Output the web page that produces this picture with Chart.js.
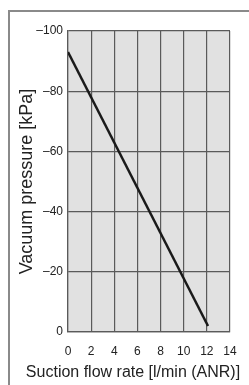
<!DOCTYPE html>
<html>
<head>
<meta charset="utf-8">
<script src="https://cdn.jsdelivr.net/npm/chart.js@4.4.1/dist/chart.umd.min.js"></script>
<style>
  html, body { margin: 0; padding: 0; background: #fff; }
  #wrap { position: relative; width: 249px; height: 385px; overflow: hidden; }
  #frame {
    position: absolute; left: 8px; top: 10px; width: 260px; height: 400px;
    border-left: 2px solid #8a8a8a; border-top: 2px solid #8a8a8a;
  }
  canvas { position: absolute; left: 0; top: 0; }
</style>
</head>
<body>
<div id="wrap">
  <div id="frame"></div>
  <canvas id="chart" width="249" height="385"></canvas>
</div>
<script>
// --- data ---
const flowRate = [0, 12.1];          // l/min (ANR)
const vacuum = [-93, -2];            // kPa
const xTicks = [0, 2, 4, 6, 8, 10, 12, 14];
const yTicks = [-100, -80, -60, -40, -20, 0];
const xTitle = 'Suction flow rate [l/min (ANR)]';
const yTitle = 'Vacuum pressure [kPa]';

const FAMILY = "'Liberation Sans', Arial, sans-serif";
const tickFont = { family: FAMILY, size: 12 };

// grey plot background + x title (centred on the frame, not on the axis)
const extras = {
  id: 'extras',
  beforeDraw(chart) {
    const { ctx, chartArea: a } = chart;
    ctx.save();
    ctx.fillStyle = '#e1e1e1';
    ctx.fillRect(a.left, a.top, a.right - a.left, a.bottom - a.top);
    ctx.restore();
  },
  afterDraw(chart) {
    const ctx = chart.ctx;
    ctx.save();
    ctx.font = '16px ' + FAMILY;
    ctx.fillStyle = '#222';
    ctx.textAlign = 'center';
    ctx.textBaseline = 'middle';
    ctx.fillText(xTitle, 133, 373);
    ctx.restore();
  }
};

const ctx = document.getElementById('chart').getContext('2d');
new Chart(ctx, {
  type: 'scatter',
  data: {
    datasets: [{
      data: flowRate.map((x, i) => ({ x: x, y: vacuum[i] })),
      showLine: true,
      borderColor: '#1a1a1a',
      borderWidth: 2.5,
      pointRadius: 0
    }]
  },
  options: {
    responsive: false,
    animation: false,
    layout: { padding: { top: 31, right: 19, left: 0, bottom: 0 } },
    plugins: { legend: { display: false }, tooltip: { enabled: false } },
    scales: {
      x: {
        type: 'linear',
        min: xTicks[0], max: xTicks[xTicks.length - 1],
        afterBuildTicks: s => { s.ticks = xTicks.map(v => ({ value: v })); },
        afterFit: s => { s.height = 53; },
        grid: { color: '#5a5a5a', lineWidth: 1.2, drawTicks: false },
        border: { color: '#5a5a5a', width: 1.2 },
        ticks: { color: '#222', font: tickFont, padding: 12, maxRotation: 0 }
      },
      y: {
        type: 'linear',
        reverse: true,
        min: yTicks[0], max: yTicks[yTicks.length - 1],
        afterBuildTicks: s => { s.ticks = yTicks.map(v => ({ value: v })); },
        afterFit: s => { s.width = 68; },
        grid: { color: '#5a5a5a', lineWidth: 1.2, drawTicks: false },
        border: { color: '#5a5a5a', width: 1.2 },
        ticks: {
          color: '#222', font: tickFont, padding: 5,
          callback: v => (v < 0 ? '\u2013' + Math.abs(v) : String(v))
        },
        title: {
          display: true, text: yTitle,
          color: '#222', font: { family: FAMILY, size: 18, lineHeight: 1 },
          padding: { top: 18, bottom: 0 }
        }
      }
    }
  },
  plugins: [extras]
});
</script>
</body>
</html>
